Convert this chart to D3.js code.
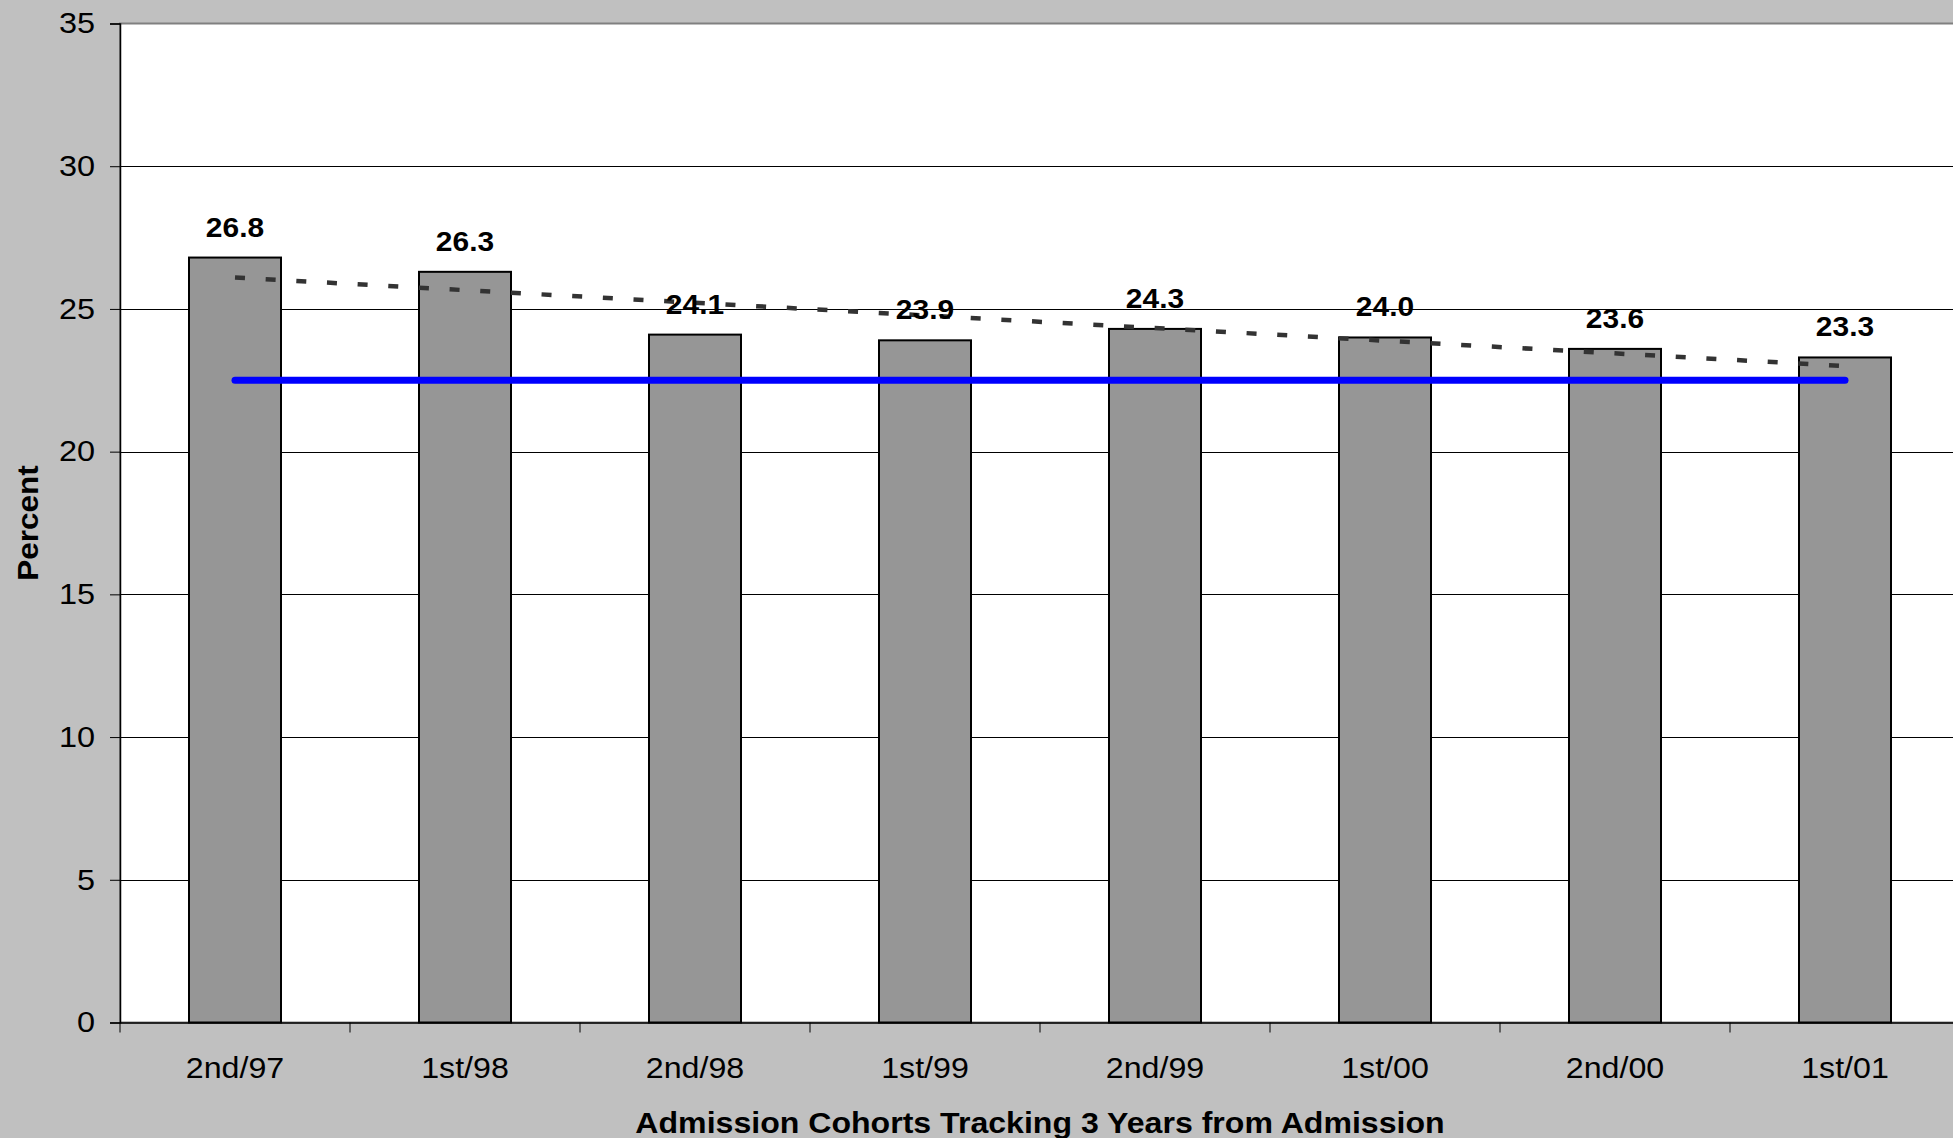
<!DOCTYPE html>
<html>
<head>
<meta charset="utf-8">
<script src="https://cdn.jsdelivr.net/npm/d3@7"></script>
<style>
  html, body { margin: 0; padding: 0; background: #C0C0C0; }
  svg { display: block; font-family: Arial, "Liberation Sans", sans-serif; }
</style>
</head>
<body>
<svg id="chart" width="1953" height="1138"></svg>
<script>
// ---- data ----
const categories = ["2nd/97", "1st/98", "2nd/98", "1st/99", "2nd/99", "1st/00", "2nd/00", "1st/01"];
const percentValues = [26.8, 26.3, 24.1, 23.9, 24.3, 24.0, 23.6, 23.3];
const averageLine = [22.5, 22.5];      // blue reference line (first -> last category)
const trendLine = [26.1, 23.0];        // dotted linear trend (first -> last category)
const yTicks = [0, 5, 10, 15, 20, 25, 30, 35];
const xTitle = "Admission Cohorts Tracking 3 Years from Admission";
const yTitle = "Percent";

// ---- layout ----
const W = 1953, H = 1138;
const plot = { left: 120, top: 23.5, right: 1960, bottom: 1022.5 };
const svg = d3.select("#chart");

svg.append("rect").attr("x", 0).attr("y", 0).attr("width", W).attr("height", H).attr("fill", "#C0C0C0");

const x = d3.scaleBand().domain(categories).range([plot.left, plot.right]).paddingInner(0.6).paddingOuter(0.3);
const xBand = d3.scaleBand().domain(categories).range([plot.left, plot.right]).padding(0);
const y = d3.scaleLinear().domain([0, 35]).range([plot.bottom, plot.top]);

// plot area
svg.append("rect")
  .attr("x", plot.left).attr("y", plot.top)
  .attr("width", plot.right - plot.left).attr("height", plot.bottom - plot.top)
  .attr("fill", "#FFFFFF").attr("stroke", "#808080").attr("stroke-width", 2);

// gridlines
svg.append("g").selectAll("line")
  .data(yTicks.filter(d => d > 0 && d < 35))
  .join("line")
  .attr("x1", plot.left).attr("x2", plot.right)
  .attr("y1", d => Math.round(y(d)) + 0.5).attr("y2", d => Math.round(y(d)) + 0.5)
  .attr("stroke", "#000").attr("stroke-width", 1);

// bars
svg.append("g").selectAll("rect")
  .data(percentValues)
  .join("rect")
  .attr("x", (d, i) => x(categories[i]))
  .attr("width", x.bandwidth())
  .attr("y", d => y(d))
  .attr("height", d => y(0) - y(d))
  .attr("fill", "#969696")
  .attr("stroke", "#000").attr("stroke-width", 2);

const cx = i => xBand(categories[i]) + xBand.bandwidth() / 2;

// trend line (dashed)
const trendIdx = [0, categories.length - 1];
svg.append("path")
  .attr("d", d3.line().x((d, k) => cx(trendIdx[k])).y(d => y(d))(trendLine))
  .attr("fill", "none").attr("stroke", "#333333").attr("stroke-width", 4.5)
  .attr("stroke-dasharray", "10 20.7");

// average line (blue)
svg.append("path")
  .attr("d", d3.line().x((d, k) => cx(trendIdx[k])).y(d => y(d))(averageLine))
  .attr("fill", "none").attr("stroke", "#0000FF").attr("stroke-width", 7)
  .attr("stroke-linecap", "round");

// value labels (slightly wide face, as in the reference)
svg.append("g").selectAll("text")
  .data(percentValues)
  .join("text")
  .attr("transform", (d, i) => `translate(${cx(i)},${y(d) - 21}) scale(1.07,1)`)
  .attr("text-anchor", "middle")
  .attr("font-weight", "bold").attr("font-size", 28)
  .attr("fill", "#000")
  .text(d => d.toFixed(1));

// y axis
const yAxis = d3.axisLeft(y).tickValues(yTicks).tickSize(10).tickPadding(14);
const gy = svg.append("g").attr("transform", `translate(${plot.left},0)`).call(yAxis);
gy.select(".domain").attr("stroke", "#000").attr("stroke-width", 1.5);
gy.selectAll(".tick line").attr("stroke", "#000").attr("stroke-width", 1);
gy.selectAll(".tick text").attr("font-size", 29).attr("fill", "#000")
  .attr("font-family", "Arial, 'Liberation Sans', sans-serif")
  .attr("x", -25 / 1.12).attr("transform", "scale(1.12,1)");

// x axis
const xAxis = d3.axisBottom(xBand).tickSize(0).tickPadding(0);
const gx = svg.append("g").attr("transform", `translate(0,${plot.bottom})`).call(xAxis);
gx.select(".domain").attr("stroke", "#000").attr("stroke-width", 1.5);
gx.selectAll(".tick text").attr("font-size", 29).attr("fill", "#000")
  .attr("font-family", "Arial, 'Liberation Sans', sans-serif")
  .attr("dy", null).attr("y", 55.5).attr("transform", "scale(1.11,1)");
// category boundary ticks
svg.append("g").selectAll("line")
  .data(categories.concat(["__end"]))
  .join("line")
  .attr("x1", (d, i) => i < categories.length ? xBand(d) : plot.right)
  .attr("x2", (d, i) => i < categories.length ? xBand(d) : plot.right)
  .attr("y1", plot.bottom).attr("y2", plot.bottom + 10)
  .attr("stroke", "#000").attr("stroke-width", 1);

// axis titles
svg.append("text")
  .attr("transform", `translate(${(plot.left + plot.right) / 2},1133) scale(1.07,1)`)
  .attr("text-anchor", "middle").attr("font-weight", "bold").attr("font-size", 30)
  .attr("fill", "#000").text(xTitle);

svg.append("text")
  .attr("transform", `translate(38,${(plot.top + plot.bottom) / 2}) rotate(-90) scale(1.05,1)`)
  .attr("text-anchor", "middle").attr("font-weight", "bold").attr("font-size", 30)
  .attr("fill", "#000").text(yTitle);
</script>
</body>
</html>
